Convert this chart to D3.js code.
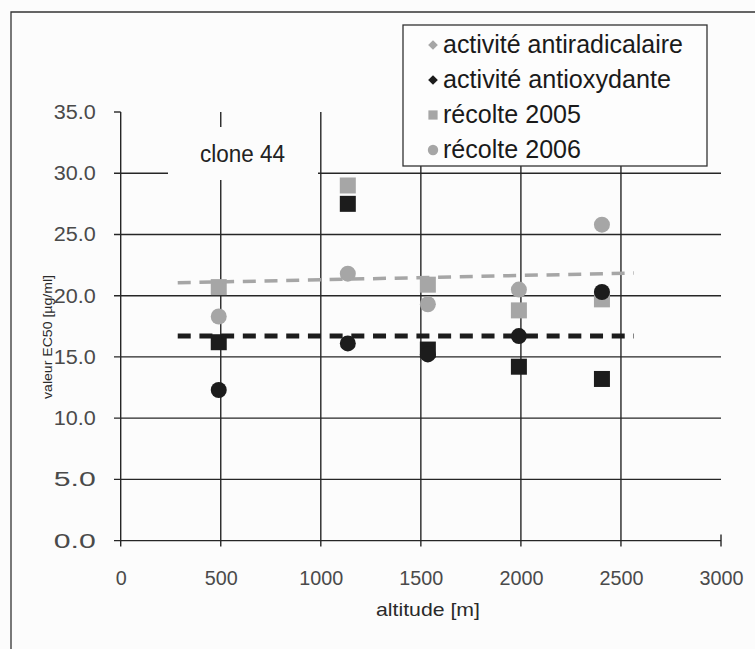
<!DOCTYPE html>
<html>
<head>
<meta charset="utf-8">
<script src="https://cdn.jsdelivr.net/npm/d3@7"></script>
<style>
  html, body { margin: 0; padding: 0; background: #fcfcfc; }
  svg { display: block; font-family: "Liberation Sans", Arial, sans-serif; }
</style>
</head>
<body>
<svg id="chart" width="755" height="649"></svg>
<script>
// ---- data ----
const altitudes = [490, 1135, 1535, 1990, 2405];
const radical2005 = [20.7, 29.0, 20.9, 18.8, 19.7];   // activité antiradicalaire, récolte 2005
const radical2006 = [18.3, 21.8, 19.3, 20.5, 25.8];   // activité antiradicalaire, récolte 2006
const oxy2005 = [16.2, 27.5, 15.6, 14.2, 13.2];       // activité antioxydante, récolte 2005
const oxy2006 = [12.3, 16.1, 15.2, 16.7, 20.3];       // activité antioxydante, récolte 2006
const trendAlt = [285, 2565];
const radicalTrend = [21.05, 21.85];
const oxyTrend = [16.7, 16.7];
const xTicks = [0, 500, 1000, 1500, 2000, 2500, 3000];
const yTicks = [0, 5, 10, 15, 20, 25, 30, 35];
const legendLabels = ["activité antiradicalaire", "activité antioxydante", "récolte 2005", "récolte 2006"];
const xTitle = "altitude [m]";
const yTitle = "valeur EC50 [µg/ml]";
const annotation = "clone 44";

// ---- layout ----
const svg = d3.select("#chart");
const GRID = "#262626", GRAY = "#a6a6a6", BLACK = "#1c1c1c";
const x = d3.scaleLinear().domain([0, 3000]).range([120.7, 721]);
const y = d3.scaleLinear().domain([0, 35]).range([540.6, 112]);

// outer frame
svg.append("path").attr("d", "M11,649 V12 H755").attr("fill", "none").attr("stroke", "#333").attr("stroke-width", 1.3);

// horizontal grid lines (5..30) + y ticks
const gh = svg.append("g");
yTicks.forEach(v => {
  const yy = y(v);
  if (v > 0 && v < 35) {
    gh.append("line").attr("x1", 114).attr("x2", 721).attr("y1", yy).attr("y2", yy)
      .attr("stroke", GRID).attr("stroke-width", 1.4);
  } else {
    gh.append("line").attr("x1", 114).attr("x2", v === 0 ? 721 : 120.7).attr("y1", yy).attr("y2", yy)
      .attr("stroke", GRID).attr("stroke-width", 1.4);
  }
});
// vertical grid lines + x ticks
xTicks.forEach(v => {
  const xx = x(v);
  const top = (v < 3000) ? y(35) : y(0) - 6;
  svg.append("line").attr("x1", xx).attr("x2", xx).attr("y1", top).attr("y2", y(0) + 6)
    .attr("stroke", GRID).attr("stroke-width", 1.4);
});

// axis tick labels via d3 axes (lines hidden)
const yAxis = svg.append("g").attr("transform", `translate(${x(0)},0)`)
  .call(d3.axisLeft(y).tickValues(yTicks).tickFormat(d3.format(".1f")).tickSize(0).tickPadding(25));
const xAxis = svg.append("g").attr("transform", `translate(0,${y(0)})`)
  .call(d3.axisBottom(x).tickValues(xTicks).tickFormat(d3.format("d")).tickSize(0).tickPadding(30));
[yAxis, xAxis].forEach(a => {
  a.select(".domain").remove();
  a.selectAll("text").attr("font-size", 20).attr("fill", "#4a4a4a")
    .attr("font-family", "'Liberation Sans', Arial, sans-serif");
});
xAxis.selectAll("text").attr("textLength", function(d){ return String(d).length * 11; }).attr("lengthAdjust", "spacingAndGlyphs");
yAxis.selectAll("text").attr("textLength", 42).attr("lengthAdjust", "spacingAndGlyphs");

// axis titles
svg.append("text").attr("x", 428).attr("y", 616).attr("text-anchor", "middle")
  .attr("font-size", 19).attr("fill", "#2a2a2a").attr("textLength", 104).attr("lengthAdjust", "spacingAndGlyphs")
  .text(xTitle);
svg.append("text").attr("transform", "translate(52,337) rotate(-90)").attr("text-anchor", "middle")
  .attr("font-size", 12).attr("fill", "#2a2a2a").attr("textLength", 124).attr("lengthAdjust", "spacingAndGlyphs")
  .text(yTitle);

// "clone 44" annotation box
svg.append("rect").attr("x", 168).attr("y", 127).attr("width", 150).attr("height", 53).attr("fill", "#fcfcfc");
svg.append("text").attr("x", 200).attr("y", 162).attr("font-size", 23).attr("fill", "#222")
  .attr("textLength", 85).attr("lengthAdjust", "spacingAndGlyphs").text(annotation);

// markers
const S = 16, R = 8;
const pts = (vals) => vals.map((v, i) => ({ a: altitudes[i], v }));
function squares(vals, color) {
  svg.append("g").selectAll("rect").data(pts(vals)).join("rect")
    .attr("x", d => x(d.a) - S / 2).attr("y", d => y(d.v) - S / 2)
    .attr("width", S).attr("height", S).attr("fill", color);
}
function circles(vals, color) {
  svg.append("g").selectAll("circle").data(pts(vals)).join("circle")
    .attr("cx", d => x(d.a)).attr("cy", d => y(d.v)).attr("r", R).attr("fill", color);
}
squares(radical2005, GRAY);
circles(radical2006, GRAY);
squares(oxy2005, BLACK);
circles(oxy2006, BLACK);

// trend lines
const line = d3.line().x(d => x(d[0])).y(d => y(d[1]));
svg.append("path").attr("d", line(trendAlt.map((a, i) => [a, radicalTrend[i]])))
  .attr("fill", "none").attr("stroke", GRAY).attr("stroke-width", 3.5).attr("stroke-dasharray", "13,8.7");
svg.append("path").attr("d", line(trendAlt.map((a, i) => [a, oxyTrend[i]])))
  .attr("fill", "none").attr("stroke", BLACK).attr("stroke-width", 5).attr("stroke-dasharray", "13,8.7");

// legend
const lg = svg.append("g");
lg.append("rect").attr("x", 403).attr("y", 25).attr("width", 304).attr("height", 141)
  .attr("fill", "#fdfdfd").attr("stroke", "#333").attr("stroke-width", 1.3);
const legendWidths = [240, 228, 138, 138];
const legendColors = [GRAY, BLACK, GRAY, GRAY];
const legendShapes = [d3.symbolDiamond2, d3.symbolDiamond2, d3.symbolSquare, d3.symbolCircle];
legendLabels.forEach((lab, i) => {
  const cy = 45 + i * 35;
  lg.append("path").attr("transform", `translate(433,${cy})`)
    .attr("d", d3.symbol().type(legendShapes[i]).size(i < 2 ? 60 : 85)())
    .attr("fill", legendColors[i]);
  lg.append("text").attr("x", 443).attr("y", cy + 8).attr("font-size", 25).attr("fill", "#1a1a1a")
    .attr("textLength", legendWidths[i]).attr("lengthAdjust", "spacingAndGlyphs").text(lab);
});
</script>
</body>
</html>
